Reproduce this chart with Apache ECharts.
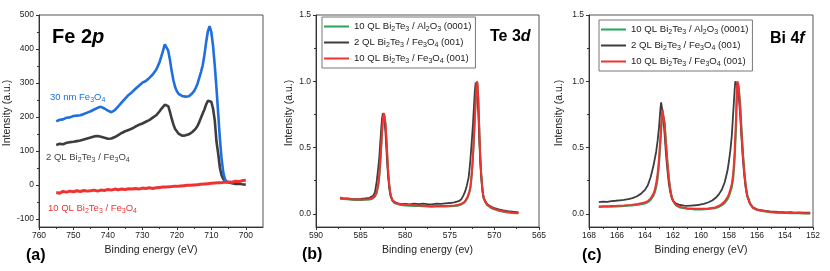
<!DOCTYPE html>
<html><head><meta charset="utf-8">
<script src="https://cdn.jsdelivr.net/npm/echarts@6/dist/echarts.min.js"></script>
<style>html,body{margin:0;padding:0;background:#fff}#c{width:830px;height:271px}</style>
</head><body><div id="c"></div>
<script>
// ---------- Panel (a): Fe 2p ----------
const energyA = [755,754,753,752,751,750,749,748,747,746,745,744,743,742,741,740,739,738,737,736,735,734,733,732,731,730,729,728,727,726,
725.5,725,724.5,724,723.5,723,722.5,722,721.5,721,720.5,720,719.5,719,718.5,718,717.5,717,716.5,716,715.5,715,714.5,714,713.5,713,712.5,712,711.5,711,710.5,710,709.5,709,708.5,708,707.5,707,706.5,706,705.5,705,
704,703,702,701,700];
const fe30nm = [187,192,193,198,199,203,204,205,209,213,217,222,227,230,225,219,214,220,231,243,254,265,273,283,292,301,306,315,325,339,
350,362,378,395,414,410,395,368,335,308,288,276,268,264,262,259,260,262,261,266,270,276,286,298,315,332,352,382,420,452,467,450,410,352,285,210,135,75,35,16,10,null,
null,null,null,null,null];
const fe2QL = [118,121,120,124,126,127,129,131,134,137,140,143,144,142,139,136,137,141,147,153,158,162,166,172,177,181,186,191,198,205,
210,217,224,230,236,240,232,215,195,178,165,158,151,147,145,144,146,147,149,152,156,160,166,174,185,198,210,222,237,248,253,245,225,190,128,92,50,28,17,12,9,7,
5,3,4,2,1];
const fe10QL = [-22,-24,-19,-21,-18,-20,-17,-19,-16,-18,-17,-15,-18,-15,-16,-13,-15,-12,-14,-12,-13,-11,-12,-10,-12,-9,-10,-8,-10,-8,
-9,-7,-8,-6,-8,-6,-7,-5,-6,-4,-6,-4,-5,-3,-4,-2,-3,-1,-3,-1,-2,0,-1,1,0,2,1,3,2,4,3,5,4,6,5,7,6,7,6,8,7,9,
8,11,10,13,14];

// ---------- Panel (b): Te 3d ----------
const teRed = [[587.3,0.118],[587,0.116],[586.5,0.113],[586,0.110],[585.5,0.108],[585,0.108],[584.5,0.109],[584,0.111],[583.7,0.118],[583.4,0.135],[583.2,0.165],[583.0,0.235],[582.9,0.300],[582.8,0.390],[582.7,0.500],[582.6,0.620],[582.5,0.720],[582.4,0.760],[582.3,0.730],[582.2,0.670],[582.1,0.560],[582.0,0.430],[581.9,0.310],[581.8,0.230],[581.7,0.170],[581.6,0.135],[581.4,0.100],[581.2,0.085],[581,0.078],[580.5,0.071],[580,0.068],[579.5,0.066],[579,0.064],[578.5,0.062],[578,0.061],[577.5,0.059],[577,0.057],[576.5,0.058],[576,0.058],[575.5,0.059],[575,0.060],[574.5,0.063],[574,0.068],[573.7,0.075],[573.4,0.088],[573.2,0.105],[573.0,0.130],[572.8,0.170],[572.7,0.200],[572.6,0.260],[572.5,0.340],[572.4,0.440],[572.3,0.580],[572.2,0.720],[572.1,0.860],[572.0,0.970],[571.95,1.000],[571.9,0.980],[571.8,0.850],[571.7,0.640],[571.6,0.450],[571.5,0.320],[571.4,0.230],[571.3,0.160],[571.2,0.120],[571.0,0.090],[570.8,0.068],[570.6,0.056],[570.3,0.045],[570,0.037],[569.5,0.027],[569,0.019],[568.5,0.013],[568,0.009],[567.5,0.006],[567.3,0.005]];
const teGreen = [[587.3,0.114],[587,0.112],[586.5,0.109],[586,0.106],[585.5,0.104],[585,0.104],[584.5,0.105],[584,0.107],[583.7,0.113],[583.4,0.128],[583.2,0.155],[583.0,0.220],[582.9,0.285],[582.8,0.375],[582.7,0.490],[582.6,0.610],[582.5,0.712],[582.4,0.755],[582.3,0.728],[582.2,0.668],[582.1,0.555],[582.0,0.425],[581.9,0.305],[581.8,0.225],[581.7,0.165],[581.6,0.130],[581.4,0.096],[581.2,0.080],[581,0.073],[580.5,0.066],[580,0.063],[579.5,0.061],[579,0.059],[578.5,0.058],[578,0.056],[577.5,0.055],[577,0.053],[576.5,0.054],[576,0.054],[575.5,0.055],[575,0.056],[574.5,0.058],[574,0.063],[573.7,0.070],[573.4,0.082],[573.2,0.098],[573.0,0.121],[572.8,0.160],[572.7,0.190],[572.6,0.248],[572.5,0.325],[572.4,0.425],[572.3,0.565],[572.2,0.710],[572.1,0.850],[572.0,0.965],[571.95,0.995],[571.9,0.978],[571.8,0.852],[571.7,0.645],[571.6,0.455],[571.5,0.322],[571.4,0.230],[571.3,0.158],[571.2,0.117],[571.0,0.086],[570.8,0.064],[570.6,0.052],[570.3,0.041],[570,0.033],[569.5,0.023],[569,0.015],[568.5,0.010],[568,0.006],[567.5,0.004],[567.3,0.003]];
const teBlack = [[587.3,0.121],[587,0.118],[586.5,0.116],[586,0.112],[585.5,0.111],[585,0.112],[584.5,0.115],[584,0.120],[583.8,0.125],[583.6,0.135],[583.4,0.160],[583.3,0.200],[583.2,0.240],[583.1,0.300],[583.0,0.360],[582.9,0.430],[582.8,0.530],[582.7,0.630],[582.6,0.720],[582.5,0.760],[582.4,0.740],[582.3,0.690],[582.2,0.600],[582.1,0.480],[582.0,0.360],[581.9,0.270],[581.8,0.200],[581.7,0.155],[581.6,0.125],[581.4,0.098],[581.2,0.088],[581,0.082],[580.5,0.073],[580,0.075],[579.5,0.071],[579,0.076],[578.5,0.072],[578,0.077],[577.5,0.073],[577,0.071],[576.5,0.076],[576,0.074],[575.5,0.079],[575,0.081],[574.5,0.086],[574,0.095],[573.7,0.110],[573.5,0.135],[573.3,0.165],[573.1,0.210],[572.9,0.270],[572.8,0.330],[572.7,0.400],[572.6,0.490],[572.5,0.580],[572.4,0.680],[572.3,0.800],[572.2,0.920],[572.1,0.990],[572.05,1.000],[572.0,0.970],[571.9,0.900],[571.8,0.760],[571.7,0.570],[571.6,0.410],[571.5,0.300],[571.4,0.210],[571.3,0.155],[571.2,0.120],[571.0,0.090],[570.8,0.072],[570.6,0.060],[570.3,0.050],[570,0.042],[569.5,0.033],[569,0.026],[568.5,0.020],[568,0.016],[567.5,0.012],[567.3,0.010]];

// ---------- Panel (c): Bi 4f ----------
const biGreen = [[167.3,0.050],[167,0.052],[166.5,0.053],[166,0.055],[165.5,0.058],[165,0.062],[164.5,0.067],[164,0.078],[163.8,0.087],[163.6,0.104],[163.4,0.135],[163.3,0.160],[163.2,0.200],[163.1,0.265],[163.0,0.370],[162.9,0.530],[162.8,0.700],[162.75,0.765],[162.7,0.775],[162.6,0.690],[162.5,0.540],[162.4,0.395],[162.3,0.275],[162.2,0.190],[162.1,0.132],[162.0,0.098],[161.8,0.065],[161.5,0.047],[161,0.037],[160.5,0.033],[160,0.032],[159.5,0.035],[159,0.042],[158.7,0.053],[158.5,0.065],[158.3,0.082],[158.1,0.110],[158.0,0.133],[157.9,0.165],[157.8,0.200],[157.7,0.265],[157.6,0.400],[157.5,0.640],[157.45,0.830],[157.4,0.960],[157.35,0.990],[157.3,0.975],[157.2,0.830],[157.1,0.630],[157.0,0.455],[156.9,0.320],[156.8,0.215],[156.7,0.145],[156.5,0.080],[156.3,0.047],[156,0.029],[155.5,0.018],[155,0.012],[154.5,0.008],[154,0.006],[153.5,0.004],[153,0.003],[152.5,0.002],[152.2,0.002]];
const biBlack = [[167.3,0.088],[167.0,0.092],[166.7,0.090],[166.4,0.096],[166.1,0.098],[165.8,0.101],[165.5,0.104],[165.2,0.110],[164.9,0.118],[164.6,0.130],[164.3,0.150],[164.0,0.180],[163.8,0.215],[163.6,0.275],[163.4,0.360],[163.2,0.470],[163.1,0.550],[163.0,0.650],[162.9,0.790],[162.85,0.840],[162.8,0.825],[162.7,0.740],[162.6,0.600],[162.5,0.450],[162.4,0.330],[162.3,0.230],[162.2,0.165],[162.1,0.122],[162.0,0.100],[161.8,0.078],[161.5,0.066],[161.2,0.062],[161.0,0.060],[160.7,0.062],[160.4,0.064],[160.1,0.068],[159.8,0.075],[159.5,0.085],[159.2,0.100],[158.9,0.125],[158.7,0.150],[158.5,0.185],[158.3,0.240],[158.1,0.330],[158.0,0.400],[157.9,0.480],[157.8,0.590],[157.7,0.760],[157.6,0.930],[157.55,1.000],[157.5,0.995],[157.4,0.965],[157.3,0.880],[157.2,0.740],[157.1,0.560],[157.0,0.400],[156.9,0.280],[156.8,0.190],[156.7,0.132],[156.5,0.074],[156.3,0.048],[156.0,0.033],[155.7,0.027],[155.4,0.022],[155.1,0.018],[154.8,0.016],[154.5,0.014],[154.2,0.013],[153.9,0.011],[153.6,0.012],[153.3,0.009],[153.0,0.010],[152.7,0.008],[152.4,0.009],[152.2,0.008]];
const biRed = [[167.3,0.055],[167,0.057],[166.5,0.058],[166,0.060],[165.5,0.063],[165,0.067],[164.5,0.073],[164,0.085],[163.8,0.095],[163.6,0.115],[163.4,0.150],[163.3,0.180],[163.2,0.230],[163.1,0.300],[163.0,0.410],[162.9,0.580],[162.8,0.740],[162.75,0.785],[162.7,0.775],[162.6,0.670],[162.5,0.520],[162.4,0.380],[162.3,0.265],[162.2,0.185],[162.1,0.130],[162.0,0.097],[161.8,0.068],[161.5,0.052],[161,0.042],[160.5,0.038],[160,0.037],[159.5,0.040],[159,0.048],[158.7,0.060],[158.5,0.075],[158.3,0.095],[158.1,0.125],[158.0,0.150],[157.9,0.185],[157.8,0.225],[157.7,0.300],[157.6,0.460],[157.5,0.720],[157.45,0.900],[157.4,1.000],[157.3,0.950],[157.2,0.790],[157.1,0.600],[157.0,0.430],[156.9,0.300],[156.8,0.200],[156.7,0.135],[156.5,0.077],[156.3,0.045],[156,0.030],[155.5,0.020],[155,0.014],[154.5,0.010],[154,0.008],[153.5,0.006],[153,0.005],[152.5,0.004],[152.2,0.004]];

// ---------- ticks ----------
const ticksAX = [700,710,720,730,740,750,760];
const minorAX = [705,715,725,735,745,755];
const ticksAY = [-100,0,100,200,300,400,500];
const minorAY = [-50,50,150,250,350,450];
const ticksBX = [565,570,575,580,585,590];
const minorBX = [567.5,572.5,577.5,582.5,587.5];
const ticksCX = [152,154,156,158,160,162,164,166,168];
const minorCX = [153,155,157,159,161,163,165,167];
const ticksY = [0,0.5,1.0,1.5];
const minorY = [0.25,0.75,1.25];

const legendNames = ['10 QL Bi2Te3 / Al2O3 (0001)','2 QL Bi2Te3 / Fe3O4 (001)','10 QL Bi2Te3 / Fe3O4 (001)'];
const legendRich = {
  '10 QL Bi2Te3 / Al2O3 (0001)': '10 QL Bi{s|2}Te{s|3} / Al{s|2}O{s|3} (0001)',
  '2 QL Bi2Te3 / Fe3O4 (001)': '2 QL Bi{s|2}Te{s|3} / Fe{s|3}O{s|4} (001)',
  '10 QL Bi2Te3 / Fe3O4 (001)': '10 QL Bi{s|2}Te{s|3} / Fe{s|3}O{s|4} (001)'
};

const FONT = "'Liberation Sans', Arial, Helvetica, sans-serif";
const C_BLUE = '#1f6fe0', C_GRAY = '#3d3d3d', C_RED = '#ef3333', C_GREEN = '#23a65a';
const AX = '#333';

function xMain(g, min, max, majors, name) {
  return {type:'value', gridIndex:g, min:min, max:max, inverse:true, position:'bottom',
    name:name, nameLocation:'middle', nameGap:16,
    nameTextStyle:{fontSize:10.5, color:'#222', fontFamily:FONT},
    axisLine:{show:true, onZero:false, lineStyle:{color:AX, width:1}},
    axisTick:{show:true, customValues:majors, length:3, lineStyle:{color:AX}},
    axisLabel:{show:true, customValues:majors, fontSize:8.5, color:'#222', margin:4, fontFamily:FONT},
    splitLine:{show:false}};
}
function xMinor(g, min, max, minors) {
  return {type:'value', gridIndex:g, min:min, max:max, inverse:true, position:'bottom',
    axisLine:{show:false, onZero:false},
    axisTick:{show:true, customValues:minors, length:2, lineStyle:{color:AX}},
    axisLabel:{show:false, customValues:minors},
    splitLine:{show:false}};
}
function yMain(g, min, max, majors, fmt, gap) {
  return {type:'value', gridIndex:g, min:min, max:max, position:'left',
    name:'Intensity (a.u.)', nameLocation:'middle', nameGap:gap,
    nameTextStyle:{fontSize:10.5, color:'#222', fontFamily:FONT, padding:[0,0,0,16]},
    axisLine:{show:true, onZero:false, lineStyle:{color:AX, width:1}},
    axisTick:{show:true, customValues:majors, length:3, lineStyle:{color:AX}},
    axisLabel:{show:true, customValues:majors, fontSize:8.5, color:'#222', margin:5, fontFamily:FONT, formatter:fmt},
    splitLine:{show:false}};
}
function yMinor(g, min, max, minors) {
  return {type:'value', gridIndex:g, min:min, max:max, position:'left',
    axisLine:{show:false, onZero:false},
    axisTick:{show:true, customValues:minors, length:2, lineStyle:{color:AX}},
    axisLabel:{show:false, customValues:minors},
    splitLine:{show:false}};
}
function line(name, data, color, xi, yi, w) {
  return {type:'line', name:name, data:data, xAxisIndex:xi, yAxisIndex:yi, showSymbol:false, symbol:'none',
    silent:true, animation:false, lineStyle:{color:color, width:w}, itemStyle:{color:color}, z:2};
}
function pairs(xs, ys) { const out = []; xs.forEach((x,i)=>{ if (ys[i] !== null) out.push([x, ys[i]]); }); return out; }
function legend(left, top) {
  return {show:true, left:left, top:top, orient:'vertical', selectedMode:false, data:legendNames,
    itemWidth:25, itemHeight:2, icon:'rect', itemGap:3,
    padding:[3,4,3,2], borderColor:'#777', borderWidth:1, backgroundColor:'#fff',
    formatter: n => legendRich[n],
    textStyle:{fontSize:9.6, color:'#222', fontFamily:FONT, lineHeight:13,
      rich:{s:{fontSize:7, lineHeight:7, verticalAlign:'bottom', color:'#222', fontFamily:FONT}}}};
}
const subRich = {s:{fontSize:7, lineHeight:7, verticalAlign:'bottom', fontFamily:FONT}};
function txt(x, y, text, size, color, weight, rich) {
  return {type:'text', x:x, y:y, silent:true, z:100,
    style:{text:text, fill:color, fontSize:size, fontWeight:weight||'normal', fontFamily:FONT,
      verticalAlign:'middle', align:'left', lineHeight:size+3, rich:rich||{}}};
}

const option = {
  animation:false,
  textStyle:{fontFamily:FONT},
  grid:[
    {left:39, top:15, width:224, height:212, show:true, borderColor:'#555', borderWidth:1, containLabel:false},
    {left:316, top:15, width:223, height:212, show:true, borderColor:'#555', borderWidth:1, containLabel:false},
    {left:589, top:15, width:224, height:212, show:true, borderColor:'#555', borderWidth:1, containLabel:false}
  ],
  xAxis:[
    xMain(0, 695, 760, ticksAX, 'Binding energy (eV)'), xMinor(0, 695, 760, minorAX),
    xMain(1, 565, 590, ticksBX, 'Binding energy (ev)'), xMinor(1, 565, 590, minorBX),
    xMain(2, 152, 168, ticksCX, 'Binding energy (eV)'), xMinor(2, 152, 168, minorCX)
  ],
  yAxis:[
    yMain(0, -123.5, 500, ticksAY, v => String(v), 24), yMinor(0, -123.5, 500, minorAY),
    yMain(1, -0.1, 1.5, ticksY, v => v.toFixed(1), 21), yMinor(1, -0.1, 1.5, minorY),
    yMain(2, -0.1, 1.5, ticksY, v => v.toFixed(1), 24), yMinor(2, -0.1, 1.5, minorY)
  ],
  legend:[legend(322, 17), legend(599, 20)],
  series:[
    line('a-2QL', pairs(energyA, fe2QL), C_GRAY, 0, 0, 2.6),
    line('a-30nm', pairs(energyA, fe30nm), C_BLUE, 0, 0, 2.6),
    line('a-10QL', pairs(energyA, fe10QL), C_RED, 0, 0, 3),
    line(legendNames[0], teGreen, C_GREEN, 2, 2, 2),
    line(legendNames[1], teBlack, C_GRAY, 2, 2, 1.8),
    line(legendNames[2], teRed, C_RED, 2, 2, 2),
    line(legendNames[0], biGreen, C_GREEN, 4, 4, 2),
    line(legendNames[1], biBlack, C_GRAY, 4, 4, 1.8),
    line(legendNames[2], biRed, C_RED, 4, 4, 2)
  ],
  graphic:[
    txt(52, 37, 'Fe 2{i|p}', 20, '#000', 'bold', {i:{fontSize:20, fontWeight:'bold', fontStyle:'italic', fontFamily:FONT}}),
    txt(490, 37, 'Te 3{i|d}', 16, '#000', 'bold', {i:{fontSize:16, fontWeight:'bold', fontStyle:'italic', fontFamily:FONT}}),
    txt(770, 39, 'Bi 4{i|f}', 16, '#000', 'bold', {i:{fontSize:16, fontWeight:'bold', fontStyle:'italic', fontFamily:FONT}}),
    txt(26, 256, '(a)', 16, '#000', 'bold'),
    txt(302, 255, '(b)', 16, '#000', 'bold'),
    txt(582, 256, '(c)', 16, '#000', 'bold'),
    txt(50, 97, '30 nm Fe{s|3}O{s|4}', 9.5, C_BLUE, 'normal', subRich),
    txt(46, 157, '2 QL Bi{s|2}Te{s|3} / Fe{s|3}O{s|4}', 9.5, '#444', 'normal', subRich),
    txt(48, 208, '10 QL Bi{s|2}Te{s|3} / Fe{s|3}O{s|4}', 9.5, C_RED, 'normal', subRich)
  ]
};
const chart = echarts.init(document.getElementById('c'), null, {renderer:'canvas'});
chart.setOption(option);
</script></body></html>
